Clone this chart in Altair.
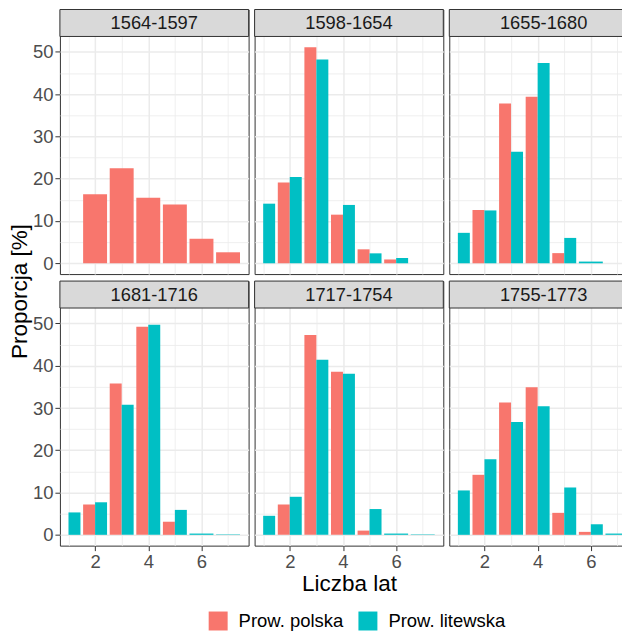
import altair as alt
import pandas as pd

# ---- data ----
okresy = ["1564-1597", "1598-1654", "1655-1680", "1681-1716", "1717-1754", "1755-1773"]
lata = [1, 2, 3, 4, 5, 6, 7]
serie = ["Prow. polska", "Prow. litewska"]
kolory = ["#F8766D", "#00BFC4"]

# None = no bar for that number of years
polska = {
    "1564-1597": [None, 16.3, 22.5, 15.5, 13.9, 5.8, 2.6],
    "1598-1654": [0.0, 19.1, 51.1, 11.5, 3.3, 0.9, None],
    "1655-1680": [0.0, 12.6, 37.8, 39.4, 2.4, None, None],
    "1681-1716": [0.0, 7.2, 35.8, 49.2, 3.1, None, None],
    "1717-1754": [0.0, 7.2, 47.3, 38.6, 1.0, None, None],
    "1755-1773": [0.0, 14.2, 31.3, 34.9, 5.2, 0.7, None],
}
litewska = {
    "1564-1597": [None, None, None, None, None, None, None],
    "1598-1654": [14.1, 20.4, 48.2, 13.8, 2.35, 1.25, None],
    "1655-1680": [7.2, 12.5, 26.4, 47.4, 6.0, 0.4, None],
    "1681-1716": [5.3, 7.7, 30.8, 49.7, 5.9, 0.3, 0.1],
    "1717-1754": [4.5, 9.0, 41.4, 38.1, 6.1, 0.3, 0.1],
    "1755-1773": [10.5, 17.9, 26.7, 30.4, 11.2, 2.5, 0.3],
}

rows = []
for okres in okresy:
    for seria, tab in zip(serie, [polska, litewska]):
        for l, v in zip(lata, tab[okres]):
            if v is not None:
                rows.append({"okres": okres, "lata": l, "seria": seria, "proc": v})
df = pd.DataFrame(rows)

# ---- layout ----
W, H, SH = 189, 238, 27          # panel width, plot height, strip height
GAP_X, GAP_Y = 6, 7
FONT = "Liberation Sans"
TICK_FS = 18.5
GRID = "#EBEBEB"

Y_LO, Y_HI = -2.555, 53.655
Y_TOP = Y_HI + (Y_HI - Y_LO) * SH / H   # extra room above for the strip
x_scale = alt.Scale(domain=[0.6775, 7.7725], nice=False, zero=False)
y_scale = alt.Scale(domain=[Y_LO, Y_TOP], nice=False, zero=False)

color = alt.Color(
    "seria:N",
    scale=alt.Scale(domain=serie, range=kolory),
    legend=alt.Legend(
        orient="none", legendX=149, legendY=603, direction="horizontal",
        title=None, symbolType="square", symbolSize=361, symbolStrokeWidth=0,
        labelFontSize=18.5, labelColor="black", labelFont=FONT,
        labelOffset=11, columnPadding=15, padding=0,
    ),
)

plot2_bottom = SH + H + GAP_Y + SH + H
y_title_y = (SH + plot2_bottom) / 2


def panel(i):
    r, c = divmod(i, 3)
    okres = okresy[i]
    bottom = r == 1
    left = c == 0

    x_kw = dict(
        values=lata, domain=False, grid=True, gridColor=GRID,
        gridWidth={"condition": {"test": "datum.value % 2 == 0", "value": 1.5}, "value": 0.8},
        labels=bottom, ticks=bottom, labelFlush=False,
    )
    if bottom:
        x_kw.update(
            labelExpr="datum.value % 2 == 0 ? datum.label : ''",
            tickColor={"condition": {"test": "datum.value % 2 == 0", "value": "#333333"}, "value": "transparent"},
            tickSize=5, tickWidth=1, labelPadding=2, labelFontSize=TICK_FS,
            labelColor="#4D4D4D", labelFont=FONT, labelOverlap=False,
        )
    if bottom and c == 1:
        x_kw.update(title="Liczba lat", titleFontSize=22.5, titleFontWeight="normal",
                    titleColor="black", titleFont=FONT, titlePadding=1)
    else:
        x_kw.update(title=None)

    y_kw = dict(
        values=list(range(0, 51, 5)), domain=False, grid=True, gridColor=GRID,
        gridWidth={"condition": {"test": "datum.value % 10 == 0", "value": 1.5}, "value": 0.8},
        labels=left, ticks=left,
    )
    if left:
        y_kw.update(
            labelExpr="datum.value % 10 == 0 ? datum.label : ''",
            tickColor={"condition": {"test": "datum.value % 10 == 0", "value": "#333333"}, "value": "transparent"},
            tickSize=5, tickWidth=1, labelPadding=2, labelFontSize=TICK_FS,
            labelColor="#4D4D4D", labelFont=FONT, labelOverlap=False,
        )
    if i == 0:
        y_kw.update(title="Proporcja [%]", titleFontSize=22.5, titleFontWeight="normal",
                    titleColor="black", titleFont=FONT, titleAngle=270,
                    titleAlign="center", titleBaseline="middle",
                    titleX=-40, titleY=y_title_y)
    else:
        y_kw.update(title=None)

    bars = (
        alt.Chart(df)
        .transform_filter(alt.datum.okres == okres)
        .transform_joinaggregate(n="count()", groupby=["lata"])
        .transform_calculate(
            x_lo="datum.lata - 0.45 + ((datum.n > 1 && datum.seria == 'Prow. litewska') ? 0.45 : 0)"
        )
        .transform_calculate(x_hi="datum.x_lo + (datum.n > 1 ? 0.45 : 0.9)")
        .mark_rect()
        .encode(
            x=alt.X("x_lo:Q", scale=x_scale, axis=alt.Axis(**x_kw)),
            x2=alt.X2("x_hi"),
            y=alt.Y("proc:Q", scale=y_scale, axis=alt.Axis(**y_kw)),
            y2=alt.datum(0),
            color=color,
        )
    )

    strip_df = pd.DataFrame({"okres": [okres]})
    strip_box = (
        alt.Chart(strip_df)
        .mark_rect(fill="#D9D9D9", stroke="#333333", strokeWidth=1)
        .encode(x=alt.value(0), x2=alt.value(W), y=alt.value(0), y2=alt.value(SH))
    )
    strip_text = (
        alt.Chart(strip_df)
        .mark_text(fontSize=18.3, color="#1A1A1A", font=FONT, align="center", baseline="middle")
        .encode(text="okres:N", x=alt.value(W / 2), y=alt.value(SH / 2 + 1))
    )

    return alt.layer(bars, strip_box, strip_text).properties(
        width=W, height=SH + H,
        view=alt.ViewBackground(fill="white", stroke="#333333", strokeWidth=1),
    )


chart = (
    alt.concat(*[panel(i) for i in range(6)], columns=3,
               spacing={"row": GAP_Y, "column": GAP_X}, bounds="flush")
    .resolve_scale(color="shared")
    .properties(padding={"left": 0, "top": 0, "right": -17, "bottom": 0}, background="white")
    .configure(font=FONT)
)

chart.save("out.html", embed_options={"renderer": "svg", "actions": False})
